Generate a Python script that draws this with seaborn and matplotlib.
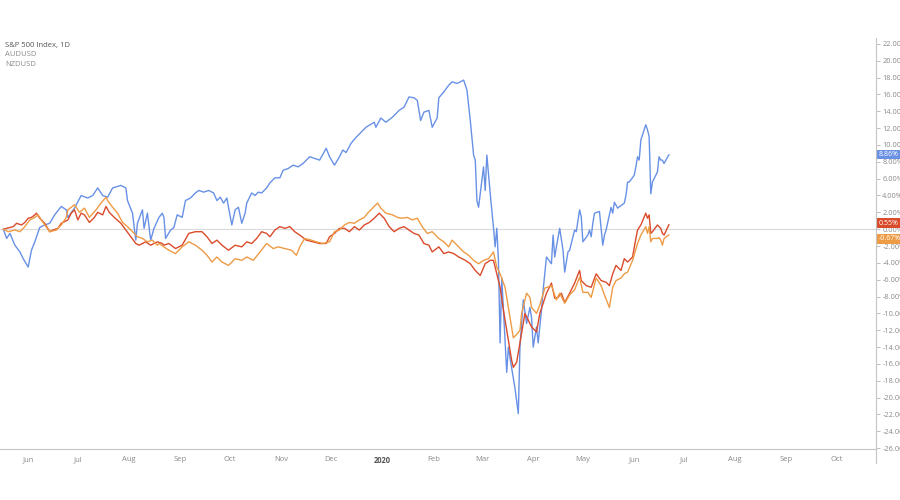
import pandas as pd
import matplotlib.pyplot as plt
import matplotlib.dates as mdates
import matplotlib.transforms as mtransforms
from matplotlib.ticker import FuncFormatter
from matplotlib.lines import Line2D
import seaborn as sns

sns.set_style("white")
plt.rcParams["font.family"] = ["Open Sans", "DejaVu Sans"]

# % change since 2019-05-17
spx_dates = [
    "2019-05-17", "2019-05-19", "2019-05-21", "2019-05-24", "2019-05-27", "2019-05-29",
    "2019-06-01", "2019-06-03", "2019-06-05", "2019-06-08", "2019-06-11", "2019-06-14",
    "2019-06-17", "2019-06-21", "2019-06-24", "2019-06-25", "2019-06-29", "2019-07-03",
    "2019-07-07", "2019-07-10", "2019-07-13", "2019-07-16", "2019-07-19", "2019-07-22",
    "2019-07-27", "2019-07-30", "2019-07-31", "2019-08-03", "2019-08-05", "2019-08-06",
    "2019-08-09", "2019-08-10", "2019-08-12", "2019-08-14", "2019-08-16", "2019-08-19",
    "2019-08-21", "2019-08-22", "2019-08-23", "2019-08-26", "2019-08-28", "2019-08-30",
    "2019-09-02", "2019-09-04", "2019-09-07", "2019-09-10", "2019-09-12", "2019-09-15",
    "2019-09-18", "2019-09-21", "2019-09-23", "2019-09-25", "2019-09-27", "2019-09-29",
    "2019-09-30", "2019-10-02", "2019-10-04", "2019-10-06", "2019-10-08", "2019-10-10",
    "2019-10-11", "2019-10-14", "2019-10-16", "2019-10-18", "2019-10-20", "2019-10-23",
    "2019-10-25", "2019-10-28", "2019-10-31", "2019-11-02", "2019-11-05", "2019-11-08",
    "2019-11-11", "2019-11-14", "2019-11-18", "2019-11-21", "2019-11-24", "2019-11-28",
    "2019-11-30", "2019-12-03", "2019-12-06", "2019-12-08", "2019-12-10", "2019-12-13",
    "2019-12-16", "2019-12-19", "2019-12-22", "2019-12-27", "2019-12-28", "2019-12-31",
    "2020-01-03", "2020-01-07", "2020-01-10", "2020-01-11", "2020-01-14", "2020-01-17",
    "2020-01-20", "2020-01-22", "2020-01-24", "2020-01-26", "2020-01-29", "2020-01-31",
    "2020-02-03", "2020-02-04", "2020-02-07", "2020-02-10", "2020-02-12", "2020-02-15",
    "2020-02-19", "2020-02-21", "2020-02-23", "2020-02-25", "2020-02-26", "2020-02-27",
    "2020-02-28", "2020-03-02", "2020-03-03", "2020-03-04", "2020-03-06", "2020-03-08",
    "2020-03-09", "2020-03-10", "2020-03-11", "2020-03-12", "2020-03-13", "2020-03-16",
    "2020-03-17", "2020-03-19", "2020-03-21", "2020-03-23", "2020-03-24", "2020-03-25",
    "2020-03-26", "2020-03-28", "2020-03-30", "2020-03-31", "2020-04-01", "2020-04-03",
    "2020-04-04", "2020-04-06", "2020-04-07", "2020-04-09", "2020-04-12", "2020-04-13",
    "2020-04-14", "2020-04-15", "2020-04-17", "2020-04-19", "2020-04-20", "2020-04-22",
    "2020-04-23", "2020-04-25", "2020-04-26", "2020-04-27", "2020-04-29", "2020-04-30",
    "2020-05-01", "2020-05-04", "2020-05-05", "2020-05-06", "2020-05-07", "2020-05-08",
    "2020-05-11", "2020-05-12", "2020-05-13", "2020-05-14", "2020-05-15", "2020-05-18",
    "2020-05-19", "2020-05-20", "2020-05-22", "2020-05-26", "2020-05-27", "2020-05-28",
    "2020-05-29", "2020-06-01", "2020-06-02", "2020-06-03", "2020-06-04", "2020-06-05",
    "2020-06-08", "2020-06-09", "2020-06-10", "2020-06-11", "2020-06-12", "2020-06-15",
    "2020-06-16", "2020-06-17", "2020-06-18", "2020-06-19", "2020-06-22",
]
spx_vals = [
    0.0, -1.1, -0.5, -1.9, -2.7, -3.5,
    -4.5, -2.5, -1.5, 0.2, 0.5, 0.7,
    1.7, 2.7, 2.3, 1.4, 2.5, 4.0,
    3.7, 4.0, 4.9, 4.0, 3.8, 4.9,
    5.2, 4.9, 3.4, 1.9, -1.3, 0.7,
    2.3, 0.1, 1.9, -1.3, 0.1, 1.4,
    1.9, 1.4, -1.1, -0.1, 0.2, 1.7,
    1.4, 3.4, 3.7, 4.3, 4.6, 4.4,
    4.6, 4.3, 3.4, 3.8, 3.1, 3.7,
    2.6, 0.5, 2.3, 2.6, 0.7, 1.9,
    3.1, 4.3, 4.0, 4.4, 4.3, 4.9,
    5.5, 6.1, 6.1, 7.0, 7.2, 7.6,
    7.4, 7.8, 8.6, 8.4, 8.2, 9.6,
    8.6, 7.6, 8.6, 9.4, 9.1, 10.2,
    10.9, 11.5, 12.1, 12.7, 12.1, 13.2,
    12.7, 13.3, 13.9, 14.1, 14.5, 15.7,
    15.6, 15.3, 12.9, 13.9, 14.1, 12.1,
    13.2, 15.6, 16.3, 17.1, 17.5, 17.3,
    17.7, 16.5, 12.9, 8.8, 8.2, 3.4,
    2.6, 7.4, 4.6, 8.8, 4.3, 0.2,
    -2.1, 0.1, -3.7, -13.5, -5.8, -17.0,
    -14.0, -16.5, -18.9, -21.9, -14.0, -11.2,
    -8.4, -11.2, -9.3, -10.5, -14.0, -11.6,
    -13.5, -9.6, -7.2, -3.3, -4.1, -0.7,
    -3.3, -2.1, 0.1, -2.5, -5.1, -2.7,
    -2.5, -0.9, -0.1, -0.3, 2.3, 1.5,
    -1.5, -0.7, -0.1, -0.9, 0.7, 1.9,
    2.1, 0.1, -1.9, -0.7, -0.1, 2.6,
    1.9, 3.2, 2.5, 3.1, 4.0, 5.6,
    5.6, 6.4, 7.4, 8.6, 8.2, 10.6,
    12.4, 11.8, 11.0, 4.2, 5.6, 6.8,
    8.6, 8.2, 8.2, 7.8, 8.86,
]

aud_dates = [
    "2019-05-17", "2019-05-23", "2019-05-25", "2019-05-28", "2019-05-30", "2019-06-01",
    "2019-06-03", "2019-06-05", "2019-06-06", "2019-06-08", "2019-06-11", "2019-06-14",
    "2019-06-16", "2019-06-19", "2019-06-21", "2019-06-22", "2019-06-25", "2019-06-27",
    "2019-06-29", "2019-07-01", "2019-07-03", "2019-07-05", "2019-07-08", "2019-07-11",
    "2019-07-13", "2019-07-16", "2019-07-18", "2019-07-20", "2019-07-23", "2019-07-27",
    "2019-07-30", "2019-08-02", "2019-08-05", "2019-08-07", "2019-08-11", "2019-08-14",
    "2019-08-18", "2019-08-21", "2019-08-22", "2019-08-25", "2019-08-29", "2019-09-02",
    "2019-09-06", "2019-09-10", "2019-09-14", "2019-09-17", "2019-09-20", "2019-09-23",
    "2019-09-26", "2019-09-30", "2019-10-04", "2019-10-08", "2019-10-11", "2019-10-14",
    "2019-10-17", "2019-10-20", "2019-10-23", "2019-10-25", "2019-10-28", "2019-10-31",
    "2019-11-03", "2019-11-06", "2019-11-09", "2019-11-12", "2019-11-16", "2019-11-20",
    "2019-11-24", "2019-11-28", "2019-11-30", "2019-12-03", "2019-12-06", "2019-12-09",
    "2019-12-12", "2019-12-15", "2019-12-18", "2019-12-21", "2019-12-24", "2019-12-27",
    "2019-12-30", "2020-01-02", "2020-01-05", "2020-01-08", "2020-01-11", "2020-01-14",
    "2020-01-17", "2020-01-20", "2020-01-23", "2020-01-26", "2020-01-29", "2020-01-31",
    "2020-02-04", "2020-02-07", "2020-02-10", "2020-02-13", "2020-02-16", "2020-02-20",
    "2020-02-23", "2020-02-26", "2020-02-29", "2020-03-03", "2020-03-06", "2020-03-08",
    "2020-03-10", "2020-03-12", "2020-03-14", "2020-03-16", "2020-03-19", "2020-03-20",
    "2020-03-22", "2020-03-24", "2020-03-26", "2020-03-27", "2020-03-29", "2020-03-31",
    "2020-04-03", "2020-04-05", "2020-04-07", "2020-04-09", "2020-04-12", "2020-04-14",
    "2020-04-16", "2020-04-18", "2020-04-20", "2020-04-23", "2020-04-26", "2020-04-29",
    "2020-04-30", "2020-05-03", "2020-05-06", "2020-05-09", "2020-05-12", "2020-05-15",
    "2020-05-17", "2020-05-19", "2020-05-21", "2020-05-24", "2020-05-26", "2020-05-28",
    "2020-05-31", "2020-06-02", "2020-06-03", "2020-06-05", "2020-06-08", "2020-06-09",
    "2020-06-10", "2020-06-11", "2020-06-12", "2020-06-15", "2020-06-16", "2020-06-17",
    "2020-06-18", "2020-06-19", "2020-06-22",
]
aud_vals = [
    0.0, 0.3, 0.7, 0.5, 0.8, 1.3,
    1.4, 1.7, 1.9, 1.3, 0.7, -0.3,
    -0.1, 0.1, 0.7, 0.8, 1.1, 1.9,
    2.3, 1.1, 1.9, 1.7, 0.8, 1.4,
    2.0, 1.7, 2.7, 2.0, 1.4, 0.7,
    -0.1, -0.9, -1.7, -1.9, -1.5, -1.9,
    -1.5, -1.7, -1.9, -1.7, -2.3, -1.9,
    -0.5, -0.3, -0.3, -0.9, -1.7, -1.3,
    -1.9, -2.5, -1.9, -2.1, -1.5, -1.7,
    -1.1, -0.3, -0.5, -0.9, -0.1, 0.3,
    0.1, 0.3, -0.3, -0.7, -1.3, -1.5,
    -1.7, -1.7, -0.9, -0.5, 0.1, 0.1,
    -0.3, 0.3, -0.1, 0.5, 0.8, 1.3,
    1.9, 1.3, 0.3, -0.3, 0.1, 0.3,
    -0.1, -0.5, -0.7, -1.7, -1.9, -2.7,
    -2.1, -2.9, -2.7, -2.9, -3.3, -3.7,
    -4.1, -4.9, -5.5, -4.1, -3.7, -3.7,
    -5.3, -6.9, -9.6, -12.0, -15.6, -16.4,
    -15.8, -13.5, -11.2, -10.0, -10.8, -11.6,
    -12.2, -10.0, -8.8, -7.6, -6.4, -8.2,
    -8.1, -7.6, -8.7, -7.6, -6.4, -4.9,
    -6.1, -6.7, -6.9, -5.3, -6.1, -6.3,
    -6.7, -5.3, -4.3, -4.9, -3.5, -3.9,
    -3.3, -1.1, -0.1, 0.5, 1.9, 1.3,
    1.7, -0.5, -0.3, 0.5, 0.3, 0.1,
    -0.5, -0.7, 0.555,
]

nzd_dates = [
    "2019-05-17", "2019-05-20", "2019-05-24", "2019-05-27", "2019-05-30", "2019-06-02",
    "2019-06-05", "2019-06-07", "2019-06-10", "2019-06-14", "2019-06-18", "2019-06-21",
    "2019-06-24", "2019-06-25", "2019-06-29", "2019-07-02", "2019-07-05", "2019-07-08",
    "2019-07-12", "2019-07-15", "2019-07-18", "2019-07-19", "2019-07-22", "2019-07-25",
    "2019-07-28", "2019-07-31", "2019-08-03", "2019-08-06", "2019-08-09", "2019-08-12",
    "2019-08-15", "2019-08-18", "2019-08-19", "2019-08-22", "2019-08-25", "2019-08-29",
    "2019-09-02", "2019-09-06", "2019-09-10", "2019-09-14", "2019-09-17", "2019-09-20",
    "2019-09-23", "2019-09-26", "2019-09-30", "2019-10-04", "2019-10-08", "2019-10-11",
    "2019-10-15", "2019-10-19", "2019-10-23", "2019-10-27", "2019-10-30", "2019-11-03",
    "2019-11-07", "2019-11-10", "2019-11-12", "2019-11-15", "2019-11-19", "2019-11-22",
    "2019-11-26", "2019-11-30", "2019-12-03", "2019-12-06", "2019-12-09", "2019-12-12",
    "2019-12-15", "2019-12-18", "2019-12-21", "2019-12-23", "2019-12-26", "2019-12-29",
    "2019-12-31", "2020-01-03", "2020-01-07", "2020-01-10", "2020-01-13", "2020-01-16",
    "2020-01-19", "2020-01-22", "2020-01-25", "2020-01-28", "2020-01-31", "2020-02-04",
    "2020-02-07", "2020-02-10", "2020-02-12", "2020-02-15", "2020-02-19", "2020-02-22",
    "2020-02-25", "2020-02-28", "2020-03-02", "2020-03-05", "2020-03-08", "2020-03-10",
    "2020-03-12", "2020-03-15", "2020-03-17", "2020-03-20", "2020-03-22", "2020-03-24",
    "2020-03-25", "2020-03-28", "2020-03-30", "2020-03-31", "2020-04-03", "2020-04-05",
    "2020-04-08", "2020-04-12", "2020-04-15", "2020-04-17", "2020-04-20", "2020-04-23",
    "2020-04-26", "2020-04-29", "2020-05-01", "2020-05-04", "2020-05-06", "2020-05-09",
    "2020-05-12", "2020-05-14", "2020-05-17", "2020-05-19", "2020-05-21", "2020-05-24",
    "2020-05-26", "2020-05-28", "2020-05-31", "2020-06-03", "2020-06-05", "2020-06-08",
    "2020-06-09", "2020-06-10", "2020-06-11", "2020-06-12", "2020-06-15", "2020-06-16",
    "2020-06-17", "2020-06-18", "2020-06-19", "2020-06-22",
]
nzd_vals = [
    0.0, -0.3, -0.1, -0.3, 0.3, 1.1,
    1.4, 1.7, 0.8, -0.3, -0.1, 0.5,
    1.4, 2.3, 2.9, 2.0, 2.5, 1.4,
    2.3, 3.1, 3.8, 3.4, 2.6, 1.9,
    0.8, 0.3, -0.3, -0.9, -1.1, -1.5,
    -1.3, -1.9, -1.7, -2.1, -2.5, -2.9,
    -2.1, -1.5, -1.9, -2.5, -3.1, -3.9,
    -3.3, -3.9, -4.3, -3.5, -3.7, -3.3,
    -3.7, -2.7, -1.7, -2.3, -2.1, -2.3,
    -2.5, -3.1, -2.1, -1.1, -1.3, -1.5,
    -1.7, -1.5, -0.3, -0.1, 0.5, 0.8,
    0.7, 1.1, 1.4, 1.9, 2.5, 3.1,
    2.5, 1.9, 1.7, 1.4, 1.3, 1.4,
    1.1, 1.3, 0.3, -0.5, -0.3, -1.1,
    -1.5, -2.1, -1.3, -1.9, -2.7, -3.1,
    -3.7, -4.1, -3.7, -3.5, -2.7, -4.5,
    -5.3, -6.9, -9.3, -12.9, -12.5, -12.0,
    -10.0, -7.6, -8.1, -9.3, -10.0, -9.0,
    -7.0, -6.7, -8.4, -7.6, -8.8, -7.8,
    -7.2, -5.7, -7.5, -7.5, -8.1, -5.8,
    -6.7, -7.8, -9.3, -6.9, -6.1, -5.8,
    -5.3, -5.1, -3.7, -1.7, -0.7, 0.3,
    -0.5, 0.3, -1.5, -1.1, -1.1, -1.0,
    -1.3, -1.9, -1.1, -0.67,
]

series_names = ["S&P 500 Index, 1D", "AUDUSD", "NZDUSD"]
series_colors = ["#6891E6", "#DA4B2B", "#EE9B45"]
last_labels = ["8.86%", "0.55%", "-0.67%"]
# tags nudged apart so the two currency tags do not collide
tag_nudge = [0.0, 0.15, -0.45]

frames = []
for name, d, v in zip(series_names, [spx_dates, aud_dates, nzd_dates],
                      [spx_vals, aud_vals, nzd_vals]):
    frames.append(pd.DataFrame({"date": pd.to_datetime(d), "pct": v, "series": name}))
df = pd.concat(frames, ignore_index=True)

fig = plt.figure(figsize=(9, 5), dpi=100)
ax = fig.add_axes([0, 1 - 449 / 500, 876 / 900, (449 - 38) / 500])

ax.axhline(0, color="#dadada", lw=0.8, zorder=0)
sns.lineplot(data=df, x="date", y="pct", hue="series", hue_order=series_names,
             palette=dict(zip(series_names, series_colors)), estimator=None,
             linewidth=1.0, legend=False, ax=ax)

ax.set_xlim(pd.Timestamp("2019-05-15"), pd.Timestamp("2020-10-25"))
ax.set_ylim(-26.1, 22.7)
ax.set_xlabel("")
ax.set_ylabel("")

# right-hand percent axis
ax.yaxis.tick_right()
ax.set_yticks(range(-26, 23, 2))
ax.yaxis.set_major_formatter(FuncFormatter(lambda v, p: f"{v:.2f}%"))
ax.tick_params(axis="y", length=3, width=0.6, color="#b5b5b5", labelsize=5.3,
               labelcolor="#8a8a8a", pad=1.5)

# month axis
ax.xaxis.set_major_locator(mdates.MonthLocator())
ax.xaxis.set_major_formatter(FuncFormatter(
    lambda v, p: "2020" if mdates.num2date(v).month == 1 else mdates.num2date(v).strftime("%b")))
ax.tick_params(axis="x", direction="in", length=2, width=0.6, color="#b5b5b5",
               labelsize=5.5, labelcolor="#8a8a8a", pad=5)
for lbl in ax.get_xticklabels():
    if lbl.get_text() == "2020":
        lbl.set_color("#555555")
        lbl.set_fontweight("bold")

for side in ["top", "left", "right"]:
    ax.spines[side].set_visible(False)
ax.spines["bottom"].set_color("#c4c4c4")
ax.spines["bottom"].set_linewidth(0.8)
fig.add_artist(Line2D([876 / 900, 876 / 900], [1 - 463 / 500, 1 - 38 / 500],
                      color="#c4c4c4", lw=0.8))

# last value tags
trans = mtransforms.blended_transform_factory(ax.transAxes, ax.transData)
last_vals = [spx_vals[-1], aud_vals[-1], nzd_vals[-1]]
for val, nudge, lab, col in zip(last_vals, tag_nudge, last_labels, series_colors):
    ax.text(1.003, val + nudge, lab, transform=trans, ha="left", va="center",
            fontsize=5.0, color="white", clip_on=False, zorder=6,
            bbox=dict(boxstyle="square,pad=0.2", fc=col, ec="none"))

# legend text in the top-left corner
fig.text(5 / 900, 1 - 46 / 500, series_names[0], fontsize=5.5, color="#555555", va="center")
fig.text(5 / 900, 1 - 55 / 500, series_names[1], fontsize=5.5, color="#8a8a8a", va="center")
fig.text(5 / 900, 1 - 64 / 500, series_names[2], fontsize=5.5, color="#8a8a8a", va="center")

fig.savefig("out.png", dpi=100)
